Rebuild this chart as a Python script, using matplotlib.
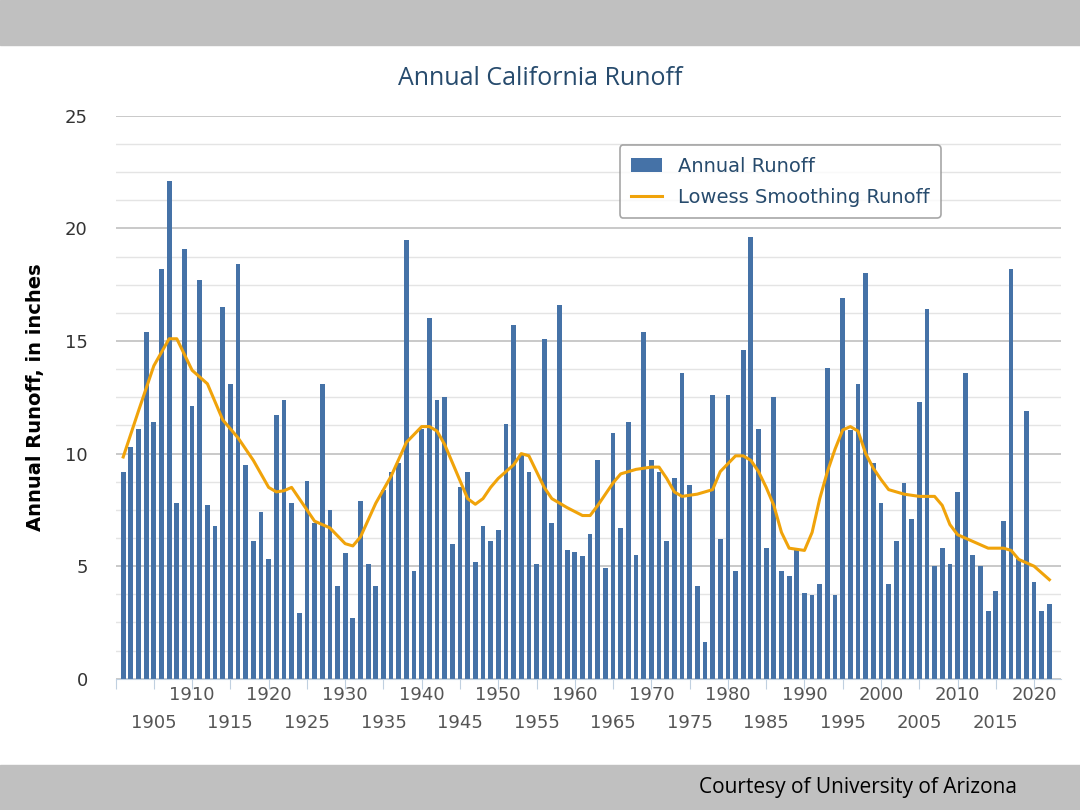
import matplotlib.pyplot as plt
import numpy as np
from matplotlib.patches import Rectangle

years = list(range(1901, 2023))
runoff = [
    9.2, 10.3, 11.1, 15.4, 11.4, 18.2, 22.1, 7.8, 19.1, 12.1,
    17.7, 7.7, 6.8, 16.5, 13.1, 18.4, 9.5, 6.1, 7.4, 5.3,
    11.7, 12.4, 7.8, 2.9, 8.8, 6.9, 13.1, 7.5, 4.1, 5.6,
    2.7, 7.9, 5.1, 4.1, 8.4, 9.2, 9.6, 19.5, 4.8, 11.1,
    16.0, 12.4, 12.5, 6.0, 8.5, 9.2, 5.2, 6.8, 6.1, 6.6,
    11.3, 15.7, 10.0, 9.2, 5.1, 15.1, 6.9, 16.6, 5.7, 5.65,
    5.45, 6.45, 9.7, 4.9, 10.9, 6.7, 11.4, 5.5, 15.4, 9.7,
    9.2, 6.1, 8.9, 13.6, 8.6, 4.1, 1.65, 12.6, 6.2, 12.6,
    4.8, 14.6, 19.6, 11.1, 5.8, 12.5, 4.8, 4.55, 5.7, 3.8,
    3.7, 4.2, 13.8, 3.7, 16.9, 11.05, 13.1, 18.0, 9.6, 7.8,
    4.2, 6.1, 8.7, 7.1, 12.3, 16.4, 5.0, 5.8, 5.1, 8.3,
    13.6, 5.5, 5.0, 3.0, 3.9, 7.0, 18.2, 5.3, 11.9, 4.3,
    3.0, 3.3,
]

lowess_years = [
    1901, 1903, 1905, 1907, 1908, 1910, 1912, 1914, 1916, 1918, 1920, 1921,
    1922, 1923, 1925, 1926, 1928, 1930, 1931, 1932, 1934, 1936, 1938, 1940,
    1941, 1942, 1943, 1945, 1946, 1947, 1948, 1949, 1950, 1952, 1953, 1954,
    1956, 1957, 1959, 1961, 1962, 1963, 1965, 1966, 1968, 1970, 1971, 1972,
    1973, 1974, 1976, 1977, 1978, 1979, 1981, 1982, 1983, 1984, 1985, 1986,
    1987, 1988, 1990, 1991, 1992, 1993, 1994, 1995, 1996, 1997, 1998, 1999,
    2000, 2001, 2003, 2005, 2007, 2008, 2009, 2010, 2012, 2014, 2016, 2017,
    2018, 2020, 2021, 2022,
]
lowess_vals = [
    9.85, 11.9, 13.9, 15.1, 15.1, 13.7, 13.1, 11.5, 10.7, 9.7, 8.5, 8.3,
    8.35, 8.5, 7.5, 7.0, 6.7, 6.0, 5.9, 6.3, 7.8, 9.0, 10.5, 11.2,
    11.2, 11.0, 10.4, 8.8, 8.0, 7.75, 8.0, 8.5, 8.9, 9.5, 10.0, 9.9,
    8.5, 8.0, 7.6, 7.25, 7.25, 7.7, 8.7, 9.1, 9.3, 9.4, 9.4, 8.9,
    8.3, 8.1, 8.2, 8.3, 8.4, 9.2, 9.9, 9.9, 9.7, 9.2, 8.5, 7.7,
    6.5, 5.8, 5.7, 6.5, 8.0, 9.2, 10.2, 11.05, 11.2, 11.0, 10.0, 9.35,
    8.85, 8.4, 8.2, 8.1, 8.1, 7.7, 6.85, 6.4, 6.1, 5.8, 5.8, 5.7,
    5.3, 5.0, 4.7, 4.4,
]

BAR = "#4572a7"
LINE = "#f0a30a"
TEXT = "#274b6d"

fig = plt.figure(figsize=(10.8, 8.1), dpi=100)
fig.patches.append(Rectangle((0, 0.945), 1, 0.055, transform=fig.transFigure,
                             color="#c0c0c0", zorder=0))
fig.patches.append(Rectangle((0, 0), 1, 0.055, transform=fig.transFigure,
                             color="#c0c0c0", zorder=0))

ax = fig.add_axes([0.107, 0.162, 0.875, 0.695])
bars = ax.bar(years, runoff, width=0.62, color=BAR, zorder=2)
line, = ax.plot(lowess_years, lowess_vals, color=LINE, lw=2.2, zorder=3)

ax.set_xlim(1900.26, 2023.46)
ax.set_ylim(0, 25)
ax.set_yticks(np.arange(0, 26, 5))
ax.set_yticks(np.arange(0, 25, 1.25), minor=True)
ax.grid(axis="y", which="major", color="#c0c0c0", lw=1.2, zorder=0)
ax.grid(axis="y", which="minor", color="#e4e4e4", lw=1, zorder=0)
for s in ["top", "right", "left"]:
    ax.spines[s].set_visible(False)
ax.spines["bottom"].set_color("#c0d0e0")
ax.tick_params(axis="y", which="both", length=0, labelsize=13,
               labelcolor="#333333", pad=20)

ax.set_xticks(list(range(1900, 2023, 5)))
ax.set_xticklabels([])
ax.tick_params(axis="x", length=7, color="#c0d0e0")
for y in range(1905, 2021, 5):
    off = -0.063 if y % 10 == 5 else -0.012
    ax.text(y, off, str(y), transform=ax.get_xaxis_transform(),
            ha="center", va="top", fontsize=13, color="#555555")

ax.set_ylabel("Annual Runoff, in inches", fontsize=14, fontweight="bold",
              labelpad=14)

leg = ax.legend([bars, line], ["Annual Runoff", "Lowess Smoothing Runoff"],
                loc="upper right", bbox_to_anchor=(0.884, 0.965), fontsize=14,
                frameon=True, fancybox=True, edgecolor="#909090",
                labelcolor=TEXT, handlelength=1.6, borderpad=0.6,
                labelspacing=0.6)
leg.get_frame().set_linewidth(1.2)

fig.text(0.5, 0.903, "Annual California Runoff", ha="center", va="center",
         fontsize=18, color=TEXT, family="Open Sans")
fig.text(0.942, 0.028, "Courtesy of University of Arizona", ha="right",
         va="center", fontsize=15, color="black", family="Open Sans")

fig.savefig("out.png", dpi=100)
